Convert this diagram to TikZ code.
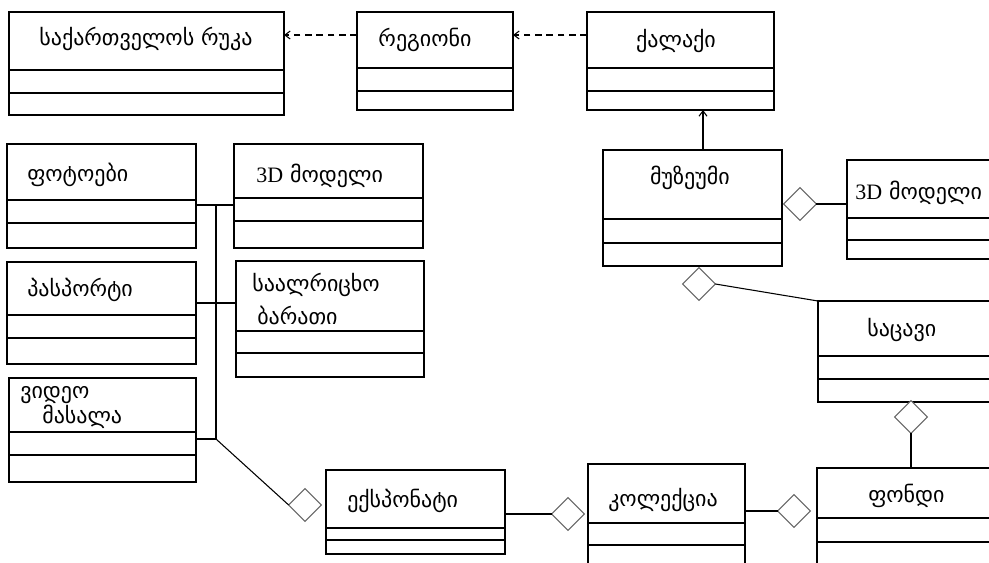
\documentclass[tikz,border=0pt]{standalone}
\usepackage{fontspec}
\newfontfamily\geo{DejaVu Sans}
\newfontfamily\lat{Liberation Serif}
\usetikzlibrary{shapes.geometric,arrows.meta}
\tikzset{
  box/.style={draw=black, line width=0.9pt, inner sep=0pt, outer sep=0pt, rectangle},
  divider/.style={draw=black, line width=0.8pt},
  lbl/.style={inner sep=0pt, font=\geo\fontsize{16.5}{19}\selectfont},
  agg/.style={shape=diamond, draw=black!60, line width=0.8pt, fill=white, inner sep=0pt, outer sep=0pt, minimum width=24.5pt, minimum height=24.5pt},
  conn/.style={draw=black, line width=0.8pt},
  dep/.style={conn, dashed, dash pattern=on 5pt off 3.5pt, -{Straight Barb[length=4pt,width=6pt]}},
  gen/.style={conn, -{Straight Barb[length=4pt,width=6pt]}}
}
\newcommand\umlbox[7]{%
  \node[box, minimum width={(#4-#2)*0.75pt}, minimum height={(#5-#3)*0.75pt}, anchor=north west] (#1) at (#2,#3) {};
  \draw[divider] (#2,#6) -- (#4,#6);
  \draw[divider] (#2,#7) -- (#4,#7);
}
\begin{document}
\begin{tikzpicture}[x=0.75pt,y=-0.75pt]
\useasboundingbox (0,0) rectangle (989,562);
\clip (0,0) rectangle (989,562);
% boxes
\umlbox{map}{9}{12}{284}{115}{70}{93}
\umlbox{region}{357}{12}{513}{110}{68}{91}
\umlbox{city}{587}{12}{774}{110}{68}{91}
\umlbox{museum}{603}{150}{782}{266}{219}{243}
\umlbox{modelR}{847}{160}{1010}{259}{218}{240}
\umlbox{photos}{7}{144}{196}{248}{200}{223}
\umlbox{modelL}{234}{144}{423}{248}{198}{221}
\umlbox{passport}{7}{262}{196}{364}{315}{338}
\umlbox{card}{236}{261}{424}{377}{331}{353}
\umlbox{video}{9}{378}{196}{482}{432}{455}
\umlbox{exhibit}{326}{470}{505}{554}{528}{540}
\umlbox{collection}{588}{464}{745}{590}{523}{545}
\umlbox{fond}{817}{468}{1010}{590}{518}{542}
\umlbox{storage}{818}{301}{1010}{402}{356}{379}
% texts
\node[lbl] (t-map) at (146,39) {საქართველოს რუკა};
\node[lbl] (t-region) at (425,40) {რეგიონი};
\node[lbl] (t-city) at (676,41) {ქალაქი};
\node[lbl] (t-museum) at (690,178) {მუზეუმი};
\node[lbl, anchor=west] (t-modelR) at (855,193) {{\lat 3D} მოდელი};
\node[lbl, anchor=west] (t-photos) at (27,175) {ფოტოები};
\node[lbl, anchor=west] (t-modelL) at (256,176) {{\lat 3D} მოდელი};
\node[lbl, anchor=west] (t-passport) at (27,290) {პასპორტი};
\node[lbl, anchor=west] (t-card1) at (252,285) {საალრიცხო};
\node[lbl, anchor=west] (t-card2) at (257,315) {ბარათი};
\node[lbl, anchor=west] (t-video1) at (20,395) {ვიდეო};
\node[lbl, anchor=west] (t-video2) at (42,417) {მასალა};
\node[lbl, anchor=west] (t-exhibit) at (347,501) {ექსპონატი};
\node[lbl, anchor=west] (t-collection) at (608,500) {კოლექცია};
\node[lbl, anchor=west] (t-fond) at (868,496) {ფონდი};
\node[lbl, anchor=west] (t-storage) at (867,330) {საცავი};
% coordinates
\coordinate (mapE) at (284,35);
\coordinate (regW) at (357,35);
\coordinate (regE) at (513,35);
\coordinate (cityW) at (587,35);
\coordinate (cityS) at (703,110);
\coordinate (musN) at (703,150);
\coordinate (jTop) at (216,205);
\coordinate (jMid) at (216,303);
\coordinate (jBot) at (216,439);
\coordinate (phE) at (196,205);
\coordinate (mlW) at (234,205);
\coordinate (paE) at (196,303);
\coordinate (caW) at (236,303);
\coordinate (viE) at (196,439);
\coordinate (mrW) at (847,204);
\coordinate (exE) at (505,514);
\coordinate (coE) at (745,511);
\coordinate (foN) at (911,468);
% diamonds
\node[agg] (d-mus) at (800,204) {};
\node[agg] (d-musS) at (699,284) {};
\node[agg] (d-sto) at (911,417) {};
\node[agg] (d-fond) at (794,511) {};
\node[agg] (d-col) at (568,514) {};
\node[agg] (d-exh) at (305,505) {};
% connectors
\draw[dep] (regW) -- (mapE);
\draw[dep] (cityW) -- (regE);
\draw[gen] (musN) -- (cityS);
\draw[conn] (d-mus.east) -- (mrW);
\draw[conn] (d-musS.east) -- (storage.north west);
\draw[conn] (d-sto.south) -- (foN);
\draw[conn] (coE) -- (d-fond.west);
\draw[conn] (exE) -- (d-col.west);
\draw[conn] (jBot) -- (d-exh.west);
\draw[conn] (jTop) -- (jBot);
\draw[conn] (phE) -- (mlW);
\draw[conn] (paE) -- (caW);
\draw[conn] (viE) -- (jBot);
\end{tikzpicture}
\end{document}
